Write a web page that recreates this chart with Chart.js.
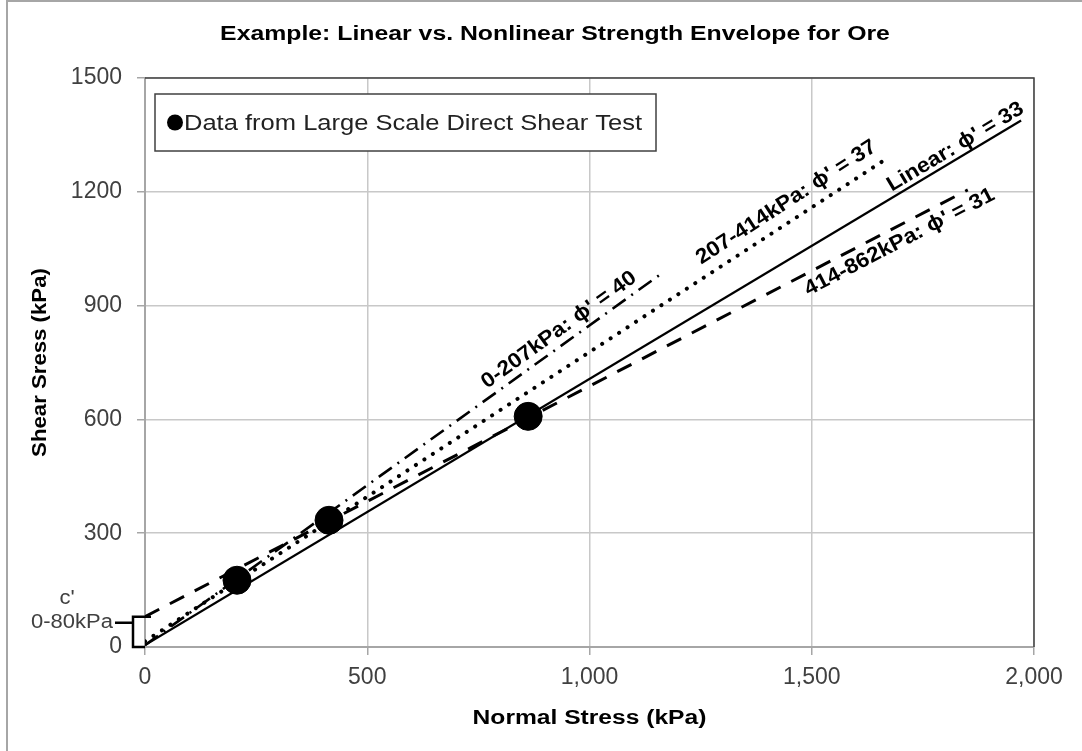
<!DOCTYPE html>
<html><head><meta charset="utf-8">
<script src="https://cdn.jsdelivr.net/npm/chart.js@4"></script>
<style>html,body{margin:0;padding:0;background:#fff}canvas{display:block}</style>
</head><body>
<canvas id="c" width="1082" height="751"></canvas>
<script>
const chartTitle = 'Example: Linear vs. Nonlinear Strength Envelope for Ore';
const xAxisTitle = 'Normal Stress (kPa)';
const yAxisTitle = 'Shear Sress (kPa)';
const legendLabel = 'Data from Large Scale Direct Shear Test';

const testNormal = [207, 414, 862];
const testShear = [176, 334, 608];

const linearNormal = [0, 1971];
const linearShear = [5, 1388];
const env0Normal = [0, 1165];
const env0Shear = [5, 987];
const env1Normal = [0, 1668];
const env1Shear = [15, 1287];
const env2Normal = [0, 1851];
const env2Shear = [80, 1205];

const lineLabels = ["0-207kPa: \u03D5' = 40", "207-414kPa: \u03D5' = 37", "Linear: \u03D5' = 33", "414-862kPa: \u03D5' = 31"];
const cohesionLabel = ["c'", "0-80kPa"];
const cohesionRange = [0, 80];

const xTickLabels = ['0', '500', '1,000', '1,500', '2,000'];
const yTickLabels = ['0', '300', '600', '900', '1200', '1500'];

const pts = (xs, ys) => xs.map((x, i) => ({x: x, y: ys[i]}));

const FONT = "'Liberation Sans', Arial, sans-serif";
const TICK_COLOR = '#404040';

// label placement: dataset index, normal-stress anchor along line, perpendicular offset (px)
const labelPlacement = [
  {ds: 1, at: 950, off: 14},
  {ds: 2, at: 1465, off: 18},
  {ds: 3, at: 1836, off: 11},
  {ds: 4, at: 1682, off: -15}
];

function drawText(ctx, text, x, y, angle, sx, font, align, color) {
  ctx.save();
  ctx.translate(x, y);
  ctx.rotate(angle);
  ctx.scale(sx, 1);
  ctx.font = font;
  ctx.fillStyle = color;
  ctx.textAlign = align;
  ctx.textBaseline = 'middle';
  ctx.fillText(text, 0, 0);
  ctx.restore();
}

const decor = {
  id: 'decor',
  beforeDraw(chart) {
    const ctx = chart.ctx;
    const ca = chart.chartArea;
    ctx.save();
    ctx.fillStyle = '#fff';
    ctx.fillRect(0, 0, chart.width, chart.height);
    ctx.strokeStyle = '#a6a6a6';
    ctx.lineWidth = 2;
    ctx.beginPath();
    ctx.moveTo(7, chart.height); ctx.lineTo(7, 1); ctx.lineTo(chart.width, 1);
    ctx.stroke();
    ctx.restore();
    drawText(ctx, chartTitle, 555, 34, 0, 1.24, 'bold 20px ' + FONT, 'center', '#000');
    drawText(ctx, xAxisTitle, (ca.left + ca.right) / 2, 718, 0, 1.23, 'bold 20px ' + FONT, 'center', '#000');
    drawText(ctx, yAxisTitle, 40, (ca.top + ca.bottom) / 2, -Math.PI / 2, 1.11, 'bold 20px ' + FONT, 'center', '#000');
  },
  afterDatasetsDraw(chart) {
    const ctx = chart.ctx;
    const ca = chart.chartArea;
    const xs = chart.scales.x, ys = chart.scales.y;
    ctx.save();
    // plot border top/right
    ctx.strokeStyle = '#404040';
    ctx.lineWidth = 1.5;
    ctx.beginPath();
    ctx.moveTo(ca.left, ca.top); ctx.lineTo(ca.right, ca.top); ctx.lineTo(ca.right, ca.bottom);
    ctx.stroke();
    ctx.restore();

    // line labels
    labelPlacement.forEach((lp, i) => {
      const d = chart.data.datasets[lp.ds].data;
      const x1 = xs.getPixelForValue(d[0].x), y1 = ys.getPixelForValue(d[0].y);
      const x2 = xs.getPixelForValue(d[1].x), y2 = ys.getPixelForValue(d[1].y);
      const t = (lp.at - d[0].x) / (d[1].x - d[0].x);
      const yv = d[0].y + t * (d[1].y - d[0].y);
      const px = xs.getPixelForValue(lp.at), py = ys.getPixelForValue(yv);
      const len = Math.hypot(x2 - x1, y2 - y1);
      const dx = (x2 - x1) / len, dy = (y2 - y1) / len;
      const cx = px + lp.off * dy, cy = py - lp.off * dx;
      drawText(ctx, lineLabels[i], cx, cy, Math.atan2(dy, dx), 1.08, 'bold 21px ' + FONT, 'center', '#000');
    });

    // cohesion bracket
    ctx.save();
    const yTop = ys.getPixelForValue(cohesionRange[1]);
    const yBot = ys.getPixelForValue(cohesionRange[0]);
    const bx = ca.left - 12;
    const ny = yTop + 0.2 * (yBot - yTop);
    ctx.strokeStyle = '#000';
    ctx.lineWidth = 2.5;
    ctx.beginPath();
    ctx.moveTo(ca.left + 6, yTop); ctx.lineTo(bx, yTop); ctx.lineTo(bx, yBot); ctx.lineTo(ca.left, yBot);
    ctx.moveTo(bx, ny); ctx.lineTo(bx - 18, ny);
    ctx.stroke();
    ctx.restore();
    drawText(ctx, cohesionLabel[1], bx - 20, ny, 0, 1.1, '20px ' + FONT, 'right', TICK_COLOR);
    drawText(ctx, cohesionLabel[0], 67, ny - 24, 0, 1.1, '20px ' + FONT, 'center', TICK_COLOR);

    // legend box
    ctx.save();
    const lx = ca.left + 10, ly = ca.top + 16, lw = 501, lh = 57;
    ctx.fillStyle = '#fff';
    ctx.fillRect(lx, ly, lw, lh);
    ctx.strokeStyle = '#404040';
    ctx.lineWidth = 1.5;
    ctx.strokeRect(lx, ly, lw, lh);
    ctx.fillStyle = '#000';
    ctx.beginPath();
    ctx.arc(lx + 20, ly + lh / 2, 8, 0, Math.PI * 2);
    ctx.fill();
    ctx.restore();
    drawText(ctx, legendLabel, lx + 29, ly + lh / 2 + 1, 0, 1.16, '22px ' + FONT, 'left', '#222');
  }
};

new Chart(document.getElementById('c'), {
  type: 'scatter',
  data: {
    datasets: [
      {label: legendLabel, data: pts(testNormal, testShear), pointRadius: 14, pointHoverRadius: 14,
       pointBackgroundColor: '#000', pointBorderColor: '#000', showLine: false},
      {label: lineLabels[0], data: pts(env0Normal, env0Shear), showLine: true, pointRadius: 0,
       borderColor: '#000', borderWidth: 2.6, borderDash: [16, 7, 2, 7]},
      {label: lineLabels[1], data: pts(env1Normal, env1Shear), showLine: true, pointRadius: 0,
       borderColor: '#000', borderWidth: 4, borderDash: [0.1, 10], borderCapStyle: 'round'},
      {label: lineLabels[2], data: pts(linearNormal, linearShear), showLine: true, pointRadius: 0,
       borderColor: '#000', borderWidth: 2.2},
      {label: lineLabels[3], data: pts(env2Normal, env2Shear), showLine: true, pointRadius: 0,
       borderColor: '#000', borderWidth: 3, borderDash: [16, 12]}
    ]
  },
  options: {
    responsive: false,
    animation: false,
    events: [],
    layout: {padding: {top: 78, left: 0, right: 48, bottom: 0}},
    plugins: {legend: {display: false}, tooltip: {enabled: false}, title: {display: false}},
    scales: {
      x: {
        type: 'linear', min: 0, max: 2000,
        afterFit: s => { s.height = 104; },
        afterBuildTicks: s => { s.ticks = xTickLabels.map((t, i) => ({value: i * 500})); },
        ticks: {callback: (v, i) => xTickLabels[i], color: TICK_COLOR, font: {family: FONT, size: 23}, padding: 9, maxRotation: 0},
        grid: {color: '#c8c8c8', lineWidth: 1.5, tickLength: 8, tickColor: '#a6a6a6'},
        border: {color: '#a6a6a6', width: 2}
      },
      y: {
        type: 'linear', min: 0, max: 1500,
        afterFit: s => { s.width = 145; },
        afterBuildTicks: s => { s.ticks = yTickLabels.map((t, i) => ({value: i * 300})); },
        ticks: {callback: (v, i) => yTickLabels[i], color: TICK_COLOR, font: {family: FONT, size: 23}, padding: 15},
        grid: {color: '#c8c8c8', lineWidth: 1.5, tickLength: 8, tickColor: '#a6a6a6'},
        border: {color: '#a6a6a6', width: 2}
      }
    }
  },
  plugins: [decor]
});
</script>
</body></html>
